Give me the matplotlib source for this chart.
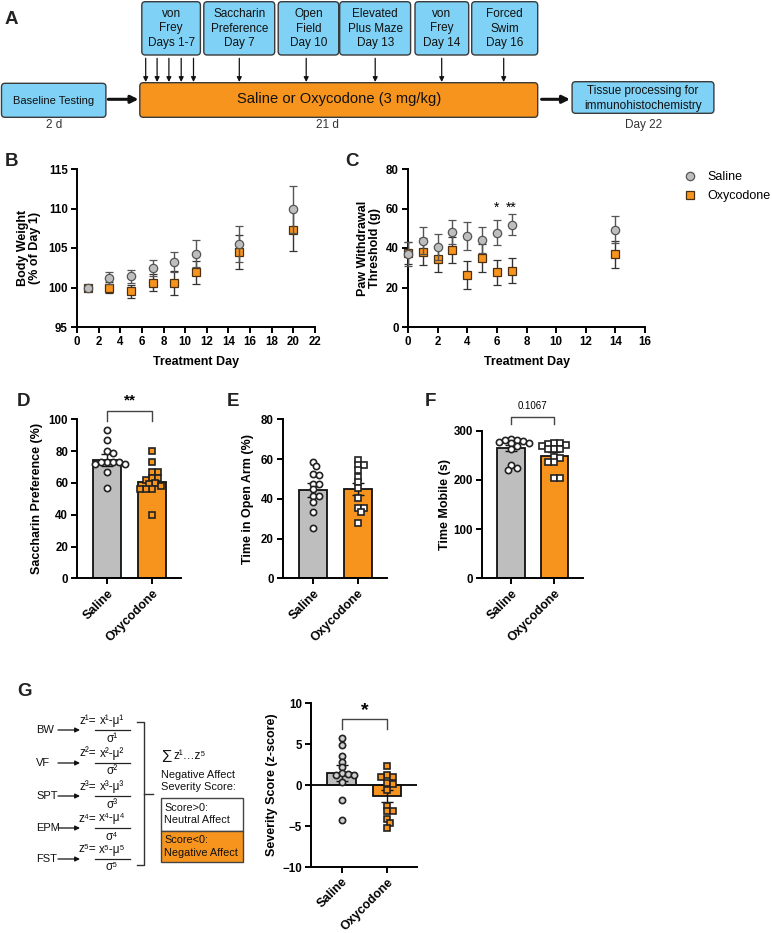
import numpy as np
import matplotlib
matplotlib.use('Agg')
import matplotlib.pyplot as plt
from matplotlib import font_manager
from matplotlib.patches import FancyBboxPatch, Rectangle
from matplotlib.lines import Line2D

W, H = 772, 933
_names = {f.name for f in font_manager.fontManager.ttflist}
BASE = 'Liberation Sans' if 'Liberation Sans' in _names else 'DejaVu Sans'
plt.rcParams['font.family'] = [BASE, 'DejaVu Sans']
plt.rcParams['font.weight'] = 'bold'
plt.rcParams['axes.labelweight'] = 'bold'

# ---------------- data ----------------
groups = ['Saline', 'Oxycodone']

schedule_boxes = ['von\nFrey\nDays 1-7', 'Saccharin\nPreference\nDay 7', 'Open\nField\nDay 10',
                  'Elevated\nPlus Maze\nDay 13', 'von\nFrey\nDay 14', 'Forced\nSwim\nDay 16']
baseline_label = 'Baseline Testing'
treatment_label = 'Saline or Oxycodone (3 mg/kg)'
tissue_label = 'Tissue processing for\nimmunohistochemistry'
duration_labels = ['2 d', '21 d', 'Day 22']

bw_days = [1, 3, 5, 7, 9, 11, 15, 20]
bw_sal_mean = [100.0, 101.2, 101.4, 102.5, 103.2, 104.3, 105.5, 109.9]
bw_sal_sem = [0.0, 0.7, 0.8, 1.0, 1.3, 1.7, 2.3, 3.0]
bw_oxy_mean = [100.0, 100.0, 99.5, 100.6, 100.6, 101.9, 104.5, 107.3]
bw_oxy_sem = [0.0, 0.7, 0.8, 1.1, 1.5, 1.5, 2.1, 2.7]

vf_days = [0, 1, 2, 3, 4, 5, 6, 7, 14]
vf_sal_mean = [37.0, 43.7, 40.7, 47.9, 46.1, 44.2, 47.8, 51.8, 49.3]
vf_sal_sem = [6.0, 6.8, 6.6, 6.1, 7.0, 6.6, 6.3, 5.4, 6.7]
vf_oxy_mean = [37.5, 38.1, 34.4, 39.2, 26.3, 34.8, 27.7, 28.5, 36.8]
vf_oxy_sem = [5.5, 6.9, 6.7, 6.6, 7.1, 7.0, 6.3, 6.2, 6.9]
vf_sig_days = [6, 7]
vf_sig_marks = ['*', '**']

spt_saline = [93, 87, 80, 79, 73, 73, 73, 73, 72, 72, 67, 57]
spt_oxy = [80, 73, 67, 67, 63, 63, 62, 60, 59, 58, 56, 56, 56, 40]
spt_mean = [74.4, 60.8]
spt_sem = [3.6, 2.3]

epm_saline = [58.7, 56.5, 52.5, 51.8, 47.6, 47.6, 44.8, 41.6, 41.6, 38.6, 33.4, 25.2]
epm_oxy = [59.5, 57.0, 57.0, 54.5, 51.1, 48.5, 45.6, 40.2, 35.2, 35.2, 33.2, 28.0]
epm_mean = [44.3, 44.9]
epm_sem = [3.4, 3.2]

of_saline = [284, 282, 281, 280, 278, 274, 274, 268, 262, 230, 225, 221]
of_oxy = [275, 275, 272, 270, 268, 262, 262, 262, 246, 245, 236, 236, 204, 203]
of_mean = [264.8, 248.6]
of_sem = [5.5, 7.5]
of_p = '0.1067'

ss_saline = [5.7, 4.9, 3.6, 2.8, 2.2, 1.5, 1.4, 1.3, 1.2, 0.4, -1.8, -4.2]
ss_oxy = [2.3, 1.3, 1.0, 1.0, 0.3, 0.1, -0.6, -2.6, -3.2, -3.2, -4.1, -4.6, -5.2]
ss_mean = [1.5, -1.3]
ss_sem = [0.95, 0.75]

z_measures = ['BW', 'VF', 'SPT', 'EPM', 'FST']
sup = ['¹', '²', '³', '⁴', '⁵']

# ---------------- style ----------------
BLUE = '#7FD2F5'
ORANGE = '#F7941D'
GRAY = '#BEBEBE'
DARK = '#333333'
NRM = dict(fontweight='normal')
FA = dict(fontweight='normal', color='#111')

fig = plt.figure(figsize=(W / 100, H / 100), dpi=100)
ov = fig.add_axes([0, 0, 1, 1])
ov.set_xlim(0, W)
ov.set_ylim(H, 0)
ov.axis('off')


def add_ax(l, r, t, b):
    a = fig.add_axes([l / W, 1 - b / H, (r - l) / W, (b - t) / H])
    a.patch.set_alpha(0)
    return a


def prism(ax):
    for s in ['top', 'right']:
        ax.spines[s].set_visible(False)
    for s in ['left', 'bottom']:
        ax.spines[s].set_linewidth(1.4)
    ax.tick_params(direction='out', length=4.5, width=1.4, labelsize=8.3, pad=2)


def ftext(x, y, s, **kw):
    fig.text(x / W, 1 - y / H, s, **kw)


# ---------------- panel A ----------------
box_x = [(141.8, 200.4), (203.8, 274.7), (278.2, 338.7), (339.7, 410.6), (415.0, 468.7), (471.7, 537.7)]
for (x0, x1), lab in zip(box_x, schedule_boxes):
    ov.add_patch(FancyBboxPatch((x0, 1.7), x1 - x0, 53.3, boxstyle='round,pad=0,rounding_size=3.5',
                                fc=BLUE, ec='#3a3a3a', lw=1.0))
    for k, line in enumerate(lab.split('\n')):
        ov.text((x0 + x1) / 2, 14.2 + 14.3 * k, line, ha='center', va='center', fontsize=8.5, **FA)
for ax_x in [145.7, 157.1, 168.9, 181.2, 193.5, 239.3, 306.2, 375.2, 441.7, 503.7]:
    ov.annotate('', xy=(ax_x, 82.0), xytext=(ax_x, 58.3),
                arrowprops=dict(arrowstyle='-|>', color='#111', lw=0.9, mutation_scale=7, shrinkA=0, shrinkB=0))
ov.add_patch(FancyBboxPatch((139.8, 82.7), 397.9, 34.6, boxstyle='round,pad=0,rounding_size=3.5',
                            fc=ORANGE, ec='#3a3a3a', lw=1.0))
ov.text(338.8, 99.5, treatment_label, ha='center', va='center', fontsize=10.6, **FA)
ov.add_patch(FancyBboxPatch((1.5, 83.3), 104.4, 34.0, boxstyle='round,pad=0,rounding_size=3.5',
                            fc=BLUE, ec='#3a3a3a', lw=1.0))
ov.text(53.7, 100.5, baseline_label, ha='center', va='center', fontsize=8.0, **FA)
ov.add_patch(FancyBboxPatch((572.1, 81.7), 141.8, 31.6, boxstyle='round,pad=0,rounding_size=3.5',
                            fc=BLUE, ec='#3a3a3a', lw=1.0))
for k, line in enumerate(tissue_label.split('\n')):
    ov.text(643.0, 90.7 + 15.3 * k, line, ha='center', va='center', fontsize=8.5, **FA)
for xa, xb in [(108.3, 138.5), (541.6, 570.0)]:
    ov.annotate('', xy=(xb, 99.3), xytext=(xa, 99.3),
                arrowprops=dict(arrowstyle='-|>', color='#111', lw=2.2, mutation_scale=11, shrinkA=0, shrinkB=0))
for xx, lab in zip([54.0, 327.9, 643.5], duration_labels):
    ov.text(xx, 125.0, lab, ha='center', va='center', fontsize=8.5, fontweight='normal', color='#333')

# ---------------- panel B ----------------
MS_C, MS_S = 6.0, 5.6
axB = add_ax(77, 315, 169, 327)
prism(axB)
axB.errorbar(bw_days, bw_oxy_mean, yerr=bw_oxy_sem, fmt='s', ms=MS_S, mfc=ORANGE, mec='#4a3010', mew=0.9,
             ecolor=DARK, elinewidth=1.0, capsize=3.2, capthick=1.0, zorder=3, clip_on=False)
axB.errorbar(bw_days, bw_sal_mean, yerr=bw_sal_sem, fmt='o', ms=MS_C, mfc=GRAY, mec='#555', mew=0.9,
             ecolor='#555', elinewidth=1.0, capsize=3.2, capthick=1.0, zorder=4, clip_on=False)
axB.set_xlim(0, 22)
axB.set_ylim(95, 115)
axB.set_xticks(range(0, 23, 2))
axB.set_yticks(range(95, 116, 5))
ftext(196, 362, 'Treatment Day', ha='center', va='center', fontsize=9)
ftext(29, 248, 'Body Weight\n(% of Day 1)', ha='center', va='center', rotation=90, fontsize=9, linespacing=1.1)

# ---------------- panel C ----------------
axC = add_ax(408, 645, 169, 327)
prism(axC)
axC.errorbar(vf_days, vf_oxy_mean, yerr=vf_oxy_sem, fmt='s', ms=MS_S, mfc=ORANGE, mec='#4a3010', mew=0.9,
             ecolor=DARK, elinewidth=1.0, capsize=3.2, capthick=1.0, zorder=3, clip_on=False)
axC.errorbar(vf_days, vf_sal_mean, yerr=vf_sal_sem, fmt='o', ms=MS_C, mfc=GRAY, mec='#555', mew=0.9,
             ecolor='#555', elinewidth=1.0, capsize=3.2, capthick=1.0, zorder=4, clip_on=False)
for d, m in zip(vf_sig_days, vf_sig_marks):
    axC.text(d, 58.5, m, ha='center', va='baseline', fontsize=10, **NRM)
axC.set_xlim(0, 16)
axC.set_ylim(0, 80)
axC.set_xticks(range(0, 17, 2))
axC.set_yticks(range(0, 81, 20))
ftext(527, 362, 'Treatment Day', ha='center', va='center', fontsize=9)
ftext(369, 248, 'Paw Withdrawal\nThreshold (g)', ha='center', va='center', rotation=90, fontsize=9,
      linespacing=1.1)
hs = [Line2D([], [], ls='none', marker='o', ms=MS_C, mfc=GRAY, mec='#555', mew=0.9),
      Line2D([], [], ls='none', marker='s', ms=MS_S, mfc=ORANGE, mec='#4a3010', mew=0.9)]
leg = axC.legend(hs, groups, loc='upper left', bbox_to_anchor=(683.5 / W, 1 - 171 / H),
                 bbox_transform=fig.transFigure, frameon=False, handlelength=1.0, handletextpad=0.95,
                 labelspacing=0.6, borderpad=0, borderaxespad=0, prop=dict(size=9, weight='normal'))


# ---------------- bar panels ----------------
def swarm_offsets(vals, ppu_x, ppu_y, d):
    vals = np.asarray(vals, float)
    order = np.argsort(-vals, kind='stable')
    placed = []
    offs = np.zeros(len(vals))
    cands = [0.0]
    for k in range(1, 14):
        cands += [k * d * 0.5, -k * d * 0.5]
    for i in order:
        y = vals[i] * ppu_y
        for c in cands:
            if all((c - px) ** 2 + (y - py) ** 2 >= (d * 0.8) ** 2 for px, py in placed):
                break
        placed.append((c, y))
        offs[i] = c / ppu_x
    return offs


XL = (-0.68, 1.66)


def bar_panel(box, means, sems, pts, ylim, yticks, fills, ylabel, ylab_x, zero_line=False):
    l, r, t, b = box
    ax = add_ax(l, r, t, b)
    prism(ax)
    x = np.arange(2)
    ax.bar(x, means, width=0.63, color=[GRAY, ORANGE], edgecolor='#111', linewidth=1.3, zorder=2)
    ax.errorbar(x, means, yerr=sems, fmt='none', ecolor='#111', elinewidth=1.0, capsize=4.5, capthick=1.0,
                zorder=3)
    ppu_x = (r - l) / (XL[1] - XL[0])
    ppu_y = (b - t) / (ylim[1] - ylim[0])
    for i, (vals, mk, fc) in enumerate(zip(pts, ['o', 's'], fills)):
        offs = swarm_offsets(vals, ppu_x, ppu_y, 6.0)
        ax.plot(i + offs, vals, ls='none', marker=mk, ms=4.5 if mk == 'o' else 4.2, mfc=fc, mec='#222',
                mew=1.2, zorder=4, clip_on=False)
    ax.set_xlim(*XL)
    ax.set_ylim(*ylim)
    ax.set_yticks(yticks)
    ax.set_xticks(x)
    ax.set_xticklabels(groups, rotation=45, ha='right', va='top', rotation_mode='anchor', fontsize=9)
    if zero_line:
        ax.axhline(0, color='#111', lw=1.4, zorder=2.5)
    ftext(ylab_x, (t + b) / 2, ylabel, ha='center', va='center', rotation=90, fontsize=9)
    return ax


axD = bar_panel((77.2, 181.2, 419.3, 578.3), spt_mean, spt_sem, [spt_saline, spt_oxy], (0, 100),
                range(0, 101, 20), ['white', ORANGE], 'Saccharin Preference (%)', 37)
axD.plot([0, 0, 1, 1], [99.2, 105.4, 105.4, 99.2], color='#444', lw=1.0, clip_on=False)
axD.text(0.5, 112.0, '**', ha='center', va='center', fontsize=11)

axE = bar_panel((283, 387, 419.3, 578.3), epm_mean, epm_sem, [epm_saline, epm_oxy], (0, 80),
                range(0, 81, 20), ['white', 'white'], 'Time in Open Arm (%)', 248.5)

axF = bar_panel((481.7, 582.5, 430.7, 578.3), of_mean, of_sem, [of_saline, of_oxy], (0, 300),
                range(0, 301, 100), ['white', 'white'], 'Time Mobile (s)', 445)
axF.plot([0, 0, 1, 1], [313, 328.5, 328.5, 313], color='#444', lw=1.0, clip_on=False)
axF.text(0.5, 350.6, of_p, ha='center', va='center', fontsize=7, **NRM)

axG = bar_panel((311, 416.7, 703.3, 867), ss_mean, ss_sem, [ss_saline, ss_oxy], (-10, 10),
                range(-10, 11, 5), ['#D0D0D0', ORANGE], 'Severity Score (z-score)', 271.7, zero_line=True)
axG.plot([0, 0, 1, 1], [6.87, 8.06, 8.06, 6.87], color='#444', lw=1.0, clip_on=False)
axG.text(0.5, 9.1, '*', ha='center', va='center', fontsize=14)

# ---------------- panel G diagram ----------------
rows = [730, 763, 796, 828, 859]
for yy, lab, s in zip(rows, z_measures, sup):
    ov.text(36, yy, lab, ha='left', va='center', fontsize=8, color='#111', **NRM)
    ov.annotate('', xy=(80, yy), xytext=(58, yy),
                arrowprops=dict(arrowstyle='-|>', color='#111', lw=0.9, mutation_scale=7, shrinkA=0, shrinkB=0))
    ov.text(96.5, yy - 9.5, f'z{s}=', ha='right', va='center', fontsize=8.5, color='#111', **NRM)
    ov.text(112, yy - 9.5, f'x{s}-μ{s}', ha='center', va='center', fontsize=8.5, color='#111', **NRM)
    ov.plot([95, 130], [yy, yy], color='#222', lw=0.9)
    ov.text(112, yy + 8.5, f'σ{s}', ha='center', va='center', fontsize=8.5, color='#111', **NRM)
ov.plot([136.7, 144.3, 144.3, 136.7], [721.7, 721.7, 865, 865], color='#333', lw=1.0)
ov.plot([144.3, 153.3], [794, 794], color='#333', lw=1.0)
ov.text(161, 757, 'Σ', ha='left', va='center', fontsize=12, color='#111', **NRM)
ov.text(173, 756, 'z¹…z⁵', ha='left', va='center', fontsize=8.5, color='#111', **NRM)
ov.text(161, 775, 'Negative Affect', ha='left', va='center', fontsize=7.9, color='#111', **NRM)
ov.text(161, 786.7, 'Severity Score:', ha='left', va='center', fontsize=7.9, color='#111', **NRM)
ov.add_patch(Rectangle((160.7, 798.3), 82.6, 32.4, fc='white', ec='#444', lw=1.0))
ov.add_patch(Rectangle((160.7, 830.7), 82.6, 31.6, fc=ORANGE, ec='#444', lw=1.0))
ov.text(164.3, 808.3, 'Score>0:', ha='left', va='center', fontsize=7.8, color='#111', **NRM)
ov.text(164.3, 820, 'Neutral Affect', ha='left', va='center', fontsize=7.8, color='#111', **NRM)
ov.text(164.3, 840, 'Score<0:', ha='left', va='center', fontsize=7.8, color='#111', **NRM)
ov.text(164.3, 852.7, 'Negative Affect', ha='left', va='center', fontsize=7.8, color='#111', **NRM)

# ---------------- panel letters ----------------
for lab, (x, y) in zip('ABCDEFG', [(11, 20), (12, 162), (352, 162), (23, 402), (233, 402), (430, 402), (25, 692)]):
    ftext(x, y, lab, ha='center', va='center', fontsize=13.5, color='#222')

fig.savefig('out.png', dpi=100)
